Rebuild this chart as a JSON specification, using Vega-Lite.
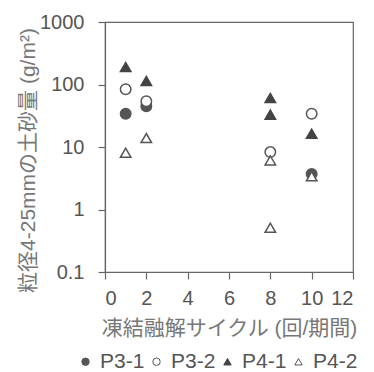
{
  "$schema": "https://vega.github.io/schema/vega-lite/v6.json",
  "width": 248,
  "height": 250,
  "autosize": "none",
  "padding": {"left": 105, "top": 22, "right": 21, "bottom": 100},
  "background": "white",
  "config": {
    "view": {"stroke": "#666", "strokeWidth": 1.2},
    "font": "Liberation Sans",
    "axis": {"grid": false, "domainColor": "#666", "tickColor": "#666", "labelColor": "#555", "titleColor": "#777", "labelFontSize": 20, "titleFontWeight": "normal", "domainWidth": 1.2, "tickWidth": 1.2},
    "legend": {"padding": 0}
  },
  "data": {"values": [
    {"x": 1, "y": 190, "s": "P4-1"},
    {"x": 1, "y": 84, "s": "P3-2"},
    {"x": 1, "y": 34, "s": "P3-1"},
    {"x": 1, "y": 8.1, "s": "P4-2"},
    {"x": 2, "y": 114, "s": "P4-1"},
    {"x": 2, "y": 45, "s": "P3-1"},
    {"x": 2, "y": 54, "s": "P3-2"},
    {"x": 2, "y": 13.9, "s": "P4-2"},
    {"x": 8, "y": 61, "s": "P4-1"},
    {"x": 8, "y": 33, "s": "P4-1"},
    {"x": 8, "y": 8.3, "s": "P3-2"},
    {"x": 8, "y": 6.1, "s": "P4-2"},
    {"x": 8, "y": 0.51, "s": "P4-2"},
    {"x": 10, "y": 34, "s": "P3-2"},
    {"x": 10, "y": 16.3, "s": "P4-1"},
    {"x": 10, "y": 3.7, "s": "P3-1"},
    {"x": 10, "y": 3.4, "s": "P4-2"}
  ]},
  "mark": {"type": "point", "filled": false, "strokeWidth": 1.5, "size": 110, "opacity": 1},
  "encoding": {
    "x": {"field": "x", "type": "quantitative", "scale": {"domain": [0, 12], "nice": false},
      "axis": {"values": [0, 2, 4, 6, 8, 10, 12], "tickSize": 7, "labelPadding": 9, "title": "凍結融解サイクル (回/期間)", "titleFont": "Liberation Sans, Noto Sans CJK JP", "titleFontSize": 21, "titlePadding": 9}},
    "y": {"field": "y", "type": "quantitative", "scale": {"type": "log", "domain": [0.1, 1000], "nice": false},
      "axis": {"values": [0.1, 1, 10, 100, 1000], "labelExpr": "'' + datum.value", "tickSize": 7, "labelPadding": 14, "title": "粒径4-25mmの土砂量 (g/m²)", "titleFont": "Liberation Sans, Noto Sans CJK JP", "titleFontSize": 21, "titleX": -77, "titleY": 138, "titleAngle": -90, "titleBaseline": "middle", "titleAlign": "center"}},
    "shape": {"field": "s", "type": "nominal", "scale": {"domain": ["P3-1", "P3-2", "P4-1", "P4-2"], "range": ["circle", "circle", "triangle-up", "triangle-up"]},
      "legend": {"orient": "none", "direction": "horizontal", "title": null, "legendX": -30, "legendY": 329, "labelFontSize": 21, "labelColor": "#555", "symbolSize": 55, "labelOffset": 4, "columnPadding": 1, "symbolStrokeWidth": 1}},
    "fill": {"field": "s", "type": "nominal", "scale": {"domain": ["P3-1", "P3-2", "P4-1", "P4-2"], "range": ["#555", "#fff", "#444", "#fff"]},
      "legend": {"orient": "none", "direction": "horizontal", "title": null, "legendX": -30, "legendY": 329, "labelFontSize": 21, "labelColor": "#555", "symbolSize": 55, "labelOffset": 4, "columnPadding": 1, "symbolStrokeWidth": 1}},
    "stroke": {"field": "s", "type": "nominal", "scale": {"domain": ["P3-1", "P3-2", "P4-1", "P4-2"], "range": ["#555", "#555", "#444", "#555"]},
      "legend": {"orient": "none", "direction": "horizontal", "title": null, "legendX": -30, "legendY": 329, "labelFontSize": 21, "labelColor": "#555", "symbolSize": 55, "labelOffset": 4, "columnPadding": 1, "symbolStrokeWidth": 1}}
  }
}
